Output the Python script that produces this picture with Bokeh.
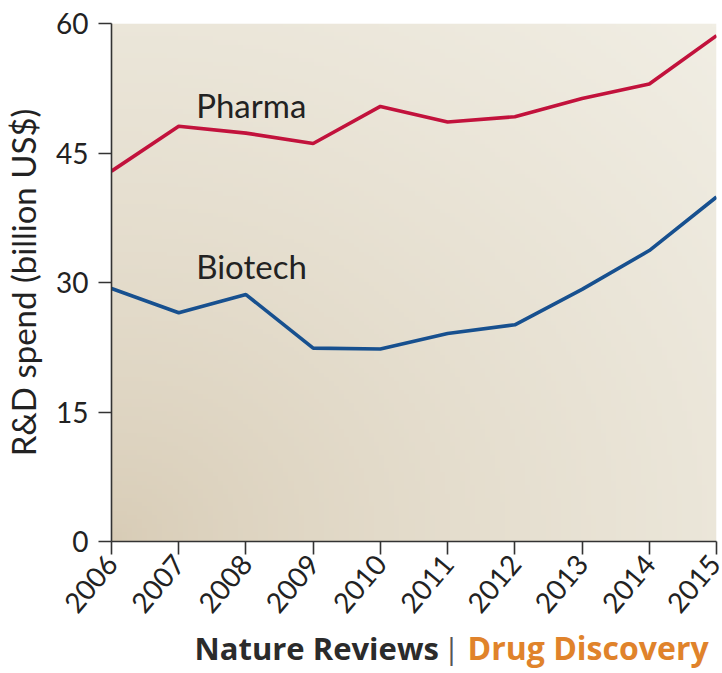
import numpy as np
from bokeh.plotting import figure
from bokeh.layouts import column
from bokeh.models import Range1d, FixedTicker
from bokeh.core.properties import value
from bokeh.embed import file_html
from bokeh.resources import INLINE

years = [2006, 2007, 2008, 2009, 2010, 2011, 2012, 2013, 2014, 2015]
pharma = [42.9, 48.1, 47.3, 46.1, 50.4, 48.6, 49.2, 51.3, 53.0, 58.6]
biotech = [29.3, 26.5, 28.6, 22.4, 22.3, 24.1, 25.1, 29.2, 33.7, 39.9]
y_ticks = [0, 15, 30, 45, 60]
series_labels = ["Pharma", "Biotech"]
y_label = "R&D spend (billion US$)"
footer_left = "Nature Reviews"
footer_sep = "|"
footer_right = "Drug Discovery"

FONT = "Lato"
FOOT_FONT = "Open Sans"
W = 722
BL, BR = 111, 6

p = figure(width=W, height=625, output_backend="svg", toolbar_location=None,
           x_range=Range1d(years[0], years[-1]), y_range=Range1d(0, 60),
           min_border_left=BL, min_border_right=BR, min_border_top=23,
           min_border_bottom=84)
p.background_fill_color = "white"
p.border_fill_color = "white"
p.outline_line_color = None
p.grid.visible = False

# radial background gradient from the lower-left corner
n = 120
gx, gy = np.meshgrid(np.linspace(0, 1, n), np.linspace(0, 1, n))
d = np.clip(np.sqrt(gx**2 + gy**2) / np.sqrt(2), 0, 1)
c0 = np.array([216, 204, 182])
c1 = np.array([241, 238, 228])
t = d ** 0.75
img = np.empty((n, n), dtype=np.uint32)
view = img.view(dtype=np.uint8).reshape((n, n, 4))
for k in range(3):
    view[:, :, k] = (c0[k] + (c1[k] - c0[k]) * t).astype(np.uint8)
view[:, :, 3] = 255
p.image_rgba(image=[img], x=years[0], y=0, dw=years[-1] - years[0], dh=60)

p.line(years, pharma, line_color="#c2123c", line_width=3.6)
p.line(years, biotech, line_color="#17508f", line_width=3.6)

p.text(x=[years[1] + 0.26, years[1] + 0.26], y=[pharma[1] + 2.5, biotech[1] + 5.4],
       text=series_labels, text_font=value(FONT), text_font_size="33px",
       text_color="#222222", text_baseline="alphabetic", text_align="left")

for ax in (p.xaxis[0], p.yaxis[0]):
    ax.axis_line_color = "#333333"
    ax.axis_line_width = 1.6
    ax.major_tick_line_color = "#333333"
    ax.major_tick_line_width = 1.6
    ax.major_tick_out = 13
    ax.major_tick_in = 0
    ax.minor_tick_line_color = None
    ax.major_label_text_font = FONT
    ax.major_label_text_color = "#222222"

p.yaxis.ticker = FixedTicker(ticks=y_ticks)
p.yaxis.major_label_text_font_size = "28px"
p.yaxis.major_label_standoff = 10
p.yaxis.axis_label = y_label
p.yaxis.axis_label_text_font = FONT
p.yaxis.axis_label_text_font_style = "normal"
p.yaxis.axis_label_text_font_size = "33px"
p.yaxis.axis_label_text_color = "#222222"
p.yaxis.axis_label_standoff = 10

p.xaxis.ticker = FixedTicker(ticks=years)
p.xaxis.major_label_orientation = 0.87
p.xaxis.major_label_text_font_size = "28px"
p.xaxis.major_label_standoff = 4

# footer strip (frame aligned with the chart frame; x in page pixels)
FH = 48
f = figure(width=W, height=FH, output_backend="svg", toolbar_location=None,
           x_range=Range1d(BL, W - BR), y_range=Range1d(0, FH),
           x_axis_type=None, y_axis_type=None,
           min_border_left=BL, min_border_right=BR, min_border_top=0,
           min_border_bottom=0)
f.grid.visible = False
f.outline_line_color = None
f.background_fill_color = "white"
f.border_fill_color = "white"
f.text(x=[194], y=[26], text=[footer_left], text_font=value(FOOT_FONT),
       text_font_style="bold", text_font_size="31px", text_color="#2b2b2b",
       text_align="left", text_baseline="alphabetic")
f.text(x=[451], y=[26], text=[footer_sep], text_font=value(FOOT_FONT),
       text_font_style="normal", text_font_size="30px", text_color="#555555",
       text_align="center", text_baseline="alphabetic")
f.text(x=[467], y=[26], text=[footer_right], text_font=value(FOOT_FONT),
       text_font_style="bold", text_font_size="32px", text_color="#e0832b",
       text_align="left", text_baseline="alphabetic")

layout = column(p, f, spacing=0)
open("out.html", "w").write(file_html(layout, INLINE))
